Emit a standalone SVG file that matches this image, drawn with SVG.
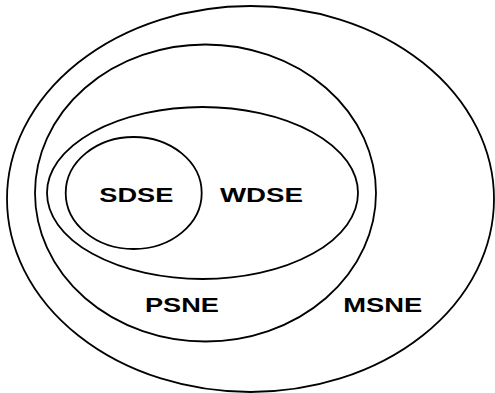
<svg xmlns="http://www.w3.org/2000/svg" width="495" height="393" viewBox="0 0 495 393">
<style>
.set{fill:none;stroke:#000;stroke-width:1.8}
.lbl{font-family:"Liberation Sans",Arial,sans-serif;font-weight:bold;font-size:20.5px;fill:#000}
</style>
<rect width="495" height="393" fill="#fff"/>
<g id="MSNE"><ellipse class="set" cx="250.5" cy="199" rx="243.5" ry="193"/><text class="lbl" x="343.3" y="311.7" textLength="79" lengthAdjust="spacingAndGlyphs">MSNE</text></g>
<g id="PSNE"><ellipse class="set" cx="205.5" cy="193" rx="170.5" ry="148.5"/><text class="lbl" x="145" y="311.7" textLength="74" lengthAdjust="spacingAndGlyphs">PSNE</text></g>
<g id="WDSE"><ellipse class="set" cx="202.5" cy="193" rx="155.5" ry="86"/><text class="lbl" x="220" y="202.3" textLength="83" lengthAdjust="spacingAndGlyphs">WDSE</text></g>
<g id="SDSE"><ellipse class="set" cx="133.7" cy="193" rx="68" ry="56"/><text class="lbl" x="99.3" y="202.3" textLength="74" lengthAdjust="spacingAndGlyphs">SDSE</text></g>
<g id="connectors"/>
</svg>
